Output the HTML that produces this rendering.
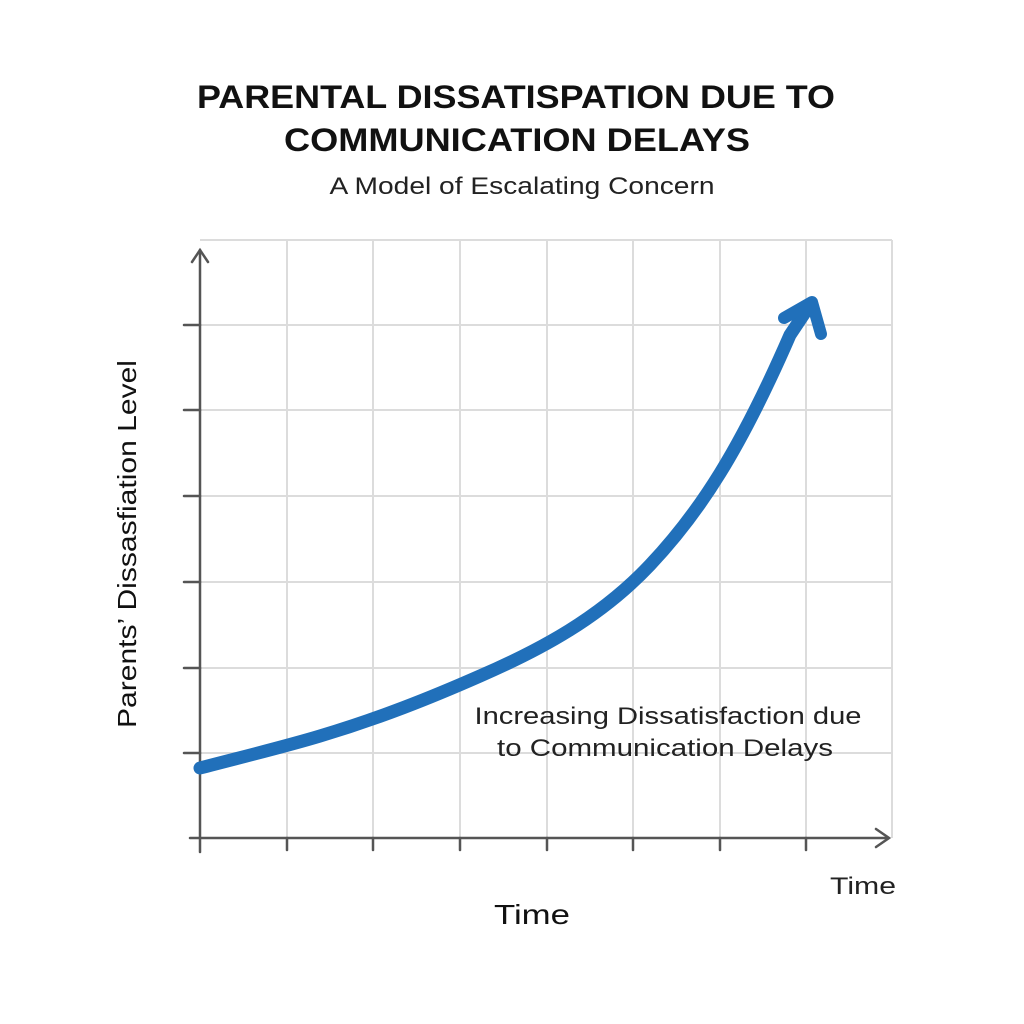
<!DOCTYPE html>
<html><head><style>
body{margin:0;background:#fff;}
svg{display:block;}
</style></head><body>
<svg width="1024" height="1024" viewBox="0 0 1024 1024" font-family="'Liberation Sans', 'DejaVu Sans', sans-serif">
<rect width="1024" height="1024" fill="#fff"/>
<text x="516" y="108" text-anchor="middle" font-size="32" font-weight="bold" fill="#111" textLength="638" lengthAdjust="spacingAndGlyphs">PARENTAL DISSATISPATION DUE TO</text>
<text x="517" y="151" text-anchor="middle" font-size="32" font-weight="bold" fill="#111" textLength="466" lengthAdjust="spacingAndGlyphs">COMMUNICATION DELAYS</text>
<text x="522" y="194" text-anchor="middle" font-size="24" fill="#222" textLength="385" lengthAdjust="spacingAndGlyphs">A Model of Escalating Concern</text>
<g stroke="#dcdcdc" stroke-width="2" fill="none">
<line x1="200" y1="240" x2="892" y2="240"/>
<line x1="200" y1="325" x2="892" y2="325"/>
<line x1="200" y1="410" x2="892" y2="410"/>
<line x1="200" y1="496" x2="892" y2="496"/>
<line x1="200" y1="582" x2="892" y2="582"/>
<line x1="200" y1="668" x2="892" y2="668"/>
<line x1="200" y1="753" x2="892" y2="753"/>
<line x1="287" y1="240" x2="287" y2="838"/>
<line x1="373" y1="240" x2="373" y2="838"/>
<line x1="460" y1="240" x2="460" y2="838"/>
<line x1="547" y1="240" x2="547" y2="838"/>
<line x1="633" y1="240" x2="633" y2="838"/>
<line x1="720" y1="240" x2="720" y2="838"/>
<line x1="806" y1="240" x2="806" y2="838"/>
<line x1="892" y1="240" x2="892" y2="838"/>
</g>
<g stroke="#555" stroke-width="2.5" fill="none" stroke-linecap="round">
<line x1="200" y1="250" x2="200" y2="852"/>
<line x1="190" y1="838" x2="888" y2="838"/>
<polyline points="192,262 200,250 208,262"/>
<polyline points="876,829 889,838 876,847"/>
<line x1="287" y1="838" x2="287" y2="850"/><line x1="373" y1="838" x2="373" y2="850"/>
<line x1="460" y1="838" x2="460" y2="850"/><line x1="547" y1="838" x2="547" y2="850"/>
<line x1="633" y1="838" x2="633" y2="850"/><line x1="720" y1="838" x2="720" y2="850"/>
<line x1="806" y1="838" x2="806" y2="850"/>
<line x1="184" y1="325" x2="200" y2="325"/><line x1="184" y1="410" x2="200" y2="410"/>
<line x1="184" y1="496" x2="200" y2="496"/><line x1="184" y1="582" x2="200" y2="582"/>
<line x1="184" y1="668" x2="200" y2="668"/><line x1="184" y1="753" x2="200" y2="753"/>
</g>
<path d="M200,768 C250,755 287,746 320,736 C380,718 430,698 480,676 C540,650 600,618 650,565 C700,512 740,450 790,335 L810,305" stroke="#2170ba" stroke-width="13" fill="none" stroke-linecap="round"/>
<polyline points="784,318 812,302 821,334" stroke="#2170ba" stroke-width="12" fill="none" stroke-linecap="round" stroke-linejoin="round"/>
<text x="668" y="724" text-anchor="middle" font-size="24" fill="#222" textLength="387" lengthAdjust="spacingAndGlyphs">Increasing Dissatisfaction due</text>
<text x="665" y="756" text-anchor="middle" font-size="24" fill="#222" textLength="336" lengthAdjust="spacingAndGlyphs">to Communication Delays</text>
<text x="863" y="894" text-anchor="middle" font-size="24" fill="#222" textLength="66" lengthAdjust="spacingAndGlyphs">Time</text>
<text x="532" y="924" text-anchor="middle" font-size="28" fill="#111" textLength="76" lengthAdjust="spacingAndGlyphs">Time</text>
<text transform="translate(136,544) rotate(-90)" text-anchor="middle" font-size="26" fill="#111" textLength="368" lengthAdjust="spacingAndGlyphs">Parents’ Dissasfiation Level</text>
</svg>
</body></html>
